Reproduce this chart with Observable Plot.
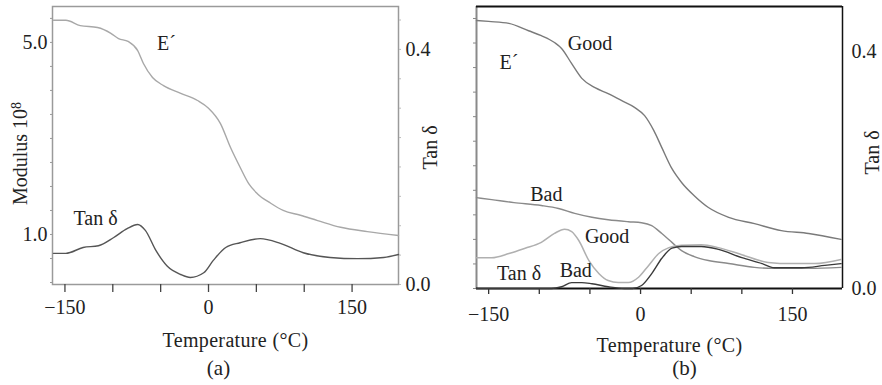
<!DOCTYPE html>
<html>
<head>
<meta charset="utf-8">
<script src="https://cdn.jsdelivr.net/npm/d3@7"></script>
<script src="https://cdn.jsdelivr.net/npm/@observablehq/plot@0.6"></script>
<style>
  html, body { margin: 0; padding: 0; background: #fff; }
  #wrap { display: flex; flex-direction: row; width: 882px; height: 385px; }
  #wrap svg { display: block; }
</style>
</head>
<body>
<div id="wrap"></div>
<script>
// ---------- Panel (a) data ----------
const tempA_E = [-162, -149, -134, -116, -102, -94, -84, -74, -68, -58.5, -47, -29, -11.5, 0, 12.5, 23, 33, 42, 51, 65, 78, 96, 114, 138, 166, 198.5];
const modA_E  = [5.46, 5.46, 5.35, 5.31, 5.19, 5.08, 5.02, 4.83, 4.56, 4.27, 4.10, 3.94, 3.79, 3.63, 3.31, 2.81, 2.40, 2.06, 1.85, 1.65, 1.50, 1.40, 1.29, 1.15, 1.06, 0.98];
const tempA_tan = [-162, -149, -131, -115, -99, -85, -74, -66, -55, -43, -29, -19, -5, 5, 18, 33, 54, 75, 99, 127, 156, 183, 198.5];
const tanA      = [0.053, 0.053, 0.063, 0.066, 0.080, 0.095, 0.102, 0.092, 0.058, 0.031, 0.017, 0.012, 0.020, 0.041, 0.063, 0.071, 0.078, 0.070, 0.054, 0.046, 0.044, 0.046, 0.051];

// ---------- Panel (b) data ----------
const tempB_Egood = [-162, -150, -130, -110.6, -98, -85, -78, -68, -58, -45, -32, -19, -6, 4, 13, 21, 31, 40.5, 53, 67, 87, 112.5, 139, 166, 198];
const modB_Egood  = [5.46, 5.44, 5.40, 5.25, 5.15, 5.01, 4.89, 4.58, 4.28, 4.09, 3.97, 3.83, 3.69, 3.52, 3.22, 2.87, 2.44, 2.16, 1.89, 1.65, 1.45, 1.32, 1.18, 1.12, 1.00];
const tempB_Ebad  = [-162, -147, -125, -98, -81, -65, -48, -32, -12, 1, 11, 21, 31, 40.5, 53, 67, 87, 112.5, 132, 166, 198];
const modB_Ebad   = [1.85, 1.81, 1.75, 1.69, 1.63, 1.53, 1.45, 1.40, 1.36, 1.34, 1.28, 1.12, 0.94, 0.77, 0.65, 0.57, 0.51, 0.43, 0.41, 0.41, 0.43];
const tempB_tanGood = [-162, -147, -130, -114, -98, -85, -75, -68, -61, -51, -41, -32, -22, -12, -2, 8, 18, 28, 40.5, 60, 77, 100, 126, 149, 172, 198];
const tanB_good     = [0.052, 0.052, 0.059, 0.068, 0.078, 0.093, 0.100, 0.096, 0.081, 0.047, 0.025, 0.0135, 0.010, 0.010, 0.019, 0.039, 0.059, 0.069, 0.073, 0.074, 0.069, 0.057, 0.044, 0.042, 0.042, 0.049];
const tempB_tanBad  = [-162, -88, -78, -68, -58, -48, -32, -16, -8, 1, 11, 21, 31, 40.5, 60, 77, 100, 120, 132, 159, 182, 198];
const tanB_bad      = [0.0, 0.0, 0.003, 0.010, 0.010, 0.008, 0.003, 0.0, 0.0, 0.005, 0.025, 0.051, 0.068, 0.071, 0.071, 0.066, 0.052, 0.042, 0.035, 0.035, 0.039, 0.042];

// ---------- axis tick labels ----------
const xTicks = [-150, -100, -50, 0, 50, 100, 150];
const xLabels = {"-150": "\u2212150", "0": "0", "150": "150"};
const modTicks = [0, 0.5, 1, 1.5, 2, 2.5, 3, 3.5, 4, 4.5, 5, 5.5];
const modLabelsA = {"1": "1.0", "5": "5.0"};
const tanTicks = [0, 0.05, 0.1, 0.15, 0.2, 0.25, 0.3, 0.35, 0.4, 0.45];
const tanLabels = {"0": "0.0", "0.4": "0.4"};

// annotations
const labelsA = [
  {t: -44, v: 0.410, s: "E\u00B4"},
  {t: -118, v: 0.112, s: "Tan \u03B4"}
];
const labelsB = [
  {t: -50, v: 0.4135, s: "Good"},
  {t: -130, v: 0.381, s: "E\u00B4"},
  {t: -93, v: 0.159, s: "Bad"},
  {t: -33, v: 0.088, s: "Good"},
  {t: -120, v: 0.025, s: "Tan \u03B4"},
  {t: -64, v: 0.030, s: "Bad"}
];

const FONT = "Liberation Serif";
const FS = 20;
const INK = "#222";
const zip = (xs, ys, f) => xs.map((x, i) => ({t: x, v: f ? f(ys[i]) : ys[i]}));

// modulus -> tan-unit alignment (left axis vs right axis)
const modToYA = m => 0.0851 + (m - 1) * (0.4119 - 0.0851) / 4;
const modToYB = m => m * 0.08287;

// ---------- Panel (a) ----------
const yDomA = [0, 0.473];
const xDomA = [-163, 198.5];
const modPosA = new Map(modTicks.map(m => [modToYA(m), m]));
const plotA = Plot.plot({
  width: 441, height: 385,
  marginLeft: 52, marginRight: 43, marginTop: 6, marginBottom: 101,
  x: {domain: xDomA, axis: null},
  y: {domain: yDomA, axis: null},
  style: {fontFamily: FONT, fontSize: FS + "px", background: "#fff", color: INK},
  marks: [
    Plot.frame({stroke: "#9a9a9a", strokeWidth: 1.5}),
    Plot.axisX(xTicks, {anchor: "bottom", label: null, tickSize: 8, tickPadding: 7, stroke: "#444", strokeWidth: 1.3,
      tickFormat: d => xLabels[String(d)] ?? "", fontSize: FS, fill: INK}),
    Plot.axisY(modTicks.map(modToYA), {anchor: "left", label: null, tickSize: 2, tickPadding: 3, stroke: "#999",
      tickFormat: d => modLabelsA[String(modPosA.get(d))] ?? "", fontSize: FS, fill: INK}),
    Plot.axisY(tanTicks, {anchor: "right", label: null, tickSize: 2, tickPadding: 5, stroke: "#bbb",
      tickFormat: d => tanLabels[String(d)] ?? "", fontSize: FS, fill: INK}),
    Plot.line(zip(tempA_E, modA_E, modToYA), {x: "t", y: "v", stroke: "#a8a8a8", strokeWidth: 1.4, curve: "monotone-x"}),
    Plot.line(zip(tempA_tan, tanA), {x: "t", y: "v", stroke: "#555", strokeWidth: 1.4, curve: "monotone-x"}),
    Plot.text(labelsA, {x: "t", y: "v", text: "s", fontSize: FS, fill: INK}),
    Plot.text(["Modulus 10\u2078"], {frameAnchor: "left", textAnchor: "middle", lineAnchor: "middle", rotate: -90, dx: -32, dy: 8, fontSize: FS, fill: INK}),
    Plot.text(["Tan \u03B4"], {frameAnchor: "right", textAnchor: "middle", lineAnchor: "middle", rotate: -90, dx: 32, dy: 2, fontSize: FS, fill: INK}),
    Plot.text(["Temperature (\u00B0C)"], {frameAnchor: "bottom", textAnchor: "middle", lineAnchor: "middle", dx: 10, dy: 56, fontSize: FS, fill: INK}),
    Plot.text(["(a)"], {frameAnchor: "bottom", textAnchor: "middle", lineAnchor: "middle", dx: -7, dy: 84, fontSize: FS + 1, fill: INK})
  ]
});

// ---------- Panel (b) ----------
const yDomB = [0, 0.476];
const xDomB = [-162, 199.4];
const plotB = Plot.plot({
  width: 441, height: 385,
  marginLeft: 35, marginRight: 40, marginTop: 6, marginBottom: 97,
  x: {domain: xDomB, axis: null},
  y: {domain: yDomB, axis: null},
  style: {fontFamily: FONT, fontSize: FS + "px", background: "#fff", color: INK},
  marks: [
    Plot.ruleX([xDomB[0]], {stroke: "#8a8a8a", strokeWidth: 2}),
    Plot.ruleY([yDomB[1]], {stroke: "#111", strokeWidth: 2}),
    Plot.ruleY([yDomB[0]], {stroke: "#111", strokeWidth: 2}),
    Plot.ruleX([xDomB[1]], {stroke: "#111", strokeWidth: 1.5}),
    Plot.axisX(xTicks, {anchor: "bottom", label: null, tickSize: 6, tickPadding: 12, stroke: "#333", strokeWidth: 1.3,
      tickFormat: d => xLabels[String(d)] ?? "", fontSize: FS, fill: INK}),
    Plot.axisY(modTicks.map(modToYB), {anchor: "left", label: null, tickSize: 3, stroke: "#888", tickFormat: () => ""}),
    Plot.axisY([0, 0.4], {anchor: "right", label: null, tickSize: 0, tickPadding: 9,
      tickFormat: d => tanLabels[String(d)] ?? "", fontSize: FS, fill: INK}),
    Plot.line(zip(tempB_Egood, modB_Egood, modToYB), {x: "t", y: "v", stroke: "#7a7a7a", strokeWidth: 1.4, curve: "monotone-x"}),
    Plot.line(zip(tempB_Ebad, modB_Ebad, modToYB), {x: "t", y: "v", stroke: "#8a8a8a", strokeWidth: 1.4, curve: "monotone-x"}),
    Plot.line(zip(tempB_tanGood, tanB_good), {x: "t", y: "v", stroke: "#b0b0b0", strokeWidth: 1.5, curve: "monotone-x"}),
    Plot.line(zip(tempB_tanBad, tanB_bad), {x: "t", y: "v", stroke: "#3a3a3a", strokeWidth: 1.4, curve: "monotone-x"}),
    Plot.text(labelsB, {x: "t", y: "v", text: "s", fontSize: FS, fill: INK}),
    Plot.text(["Tan \u03B4"], {frameAnchor: "right", textAnchor: "middle", lineAnchor: "middle", rotate: -90, dx: 30, dy: 5, fontSize: FS, fill: INK}),
    Plot.text(["Temperature (\u00B0C)"], {frameAnchor: "bottom", textAnchor: "middle", lineAnchor: "middle", dx: 10, dy: 57, fontSize: FS, fill: INK}),
    Plot.text(["(b)"], {frameAnchor: "bottom", textAnchor: "middle", lineAnchor: "middle", dx: 25, dy: 80, fontSize: FS + 1, fill: INK})
  ]
});

// typographic touches: slight tracking on the temperature titles, a proper superscript on 10^8
for (const svg of [plotA, plotB]) {
  d3.select(svg).selectAll("text").filter(function() { return this.textContent.startsWith("Temperature"); })
    .style("letter-spacing", "0.35px");
}
d3.select(plotA).selectAll("text").filter(function() { return this.textContent === "Modulus 10\u2078"; })
  .each(function() {
    const t = d3.select(this);
    t.text("Modulus 10");
    t.append("tspan").attr("dy", "-0.45em").attr("font-size", "14px").text("8");
  });

const wrap = document.getElementById("wrap");
wrap.appendChild(plotA);
wrap.appendChild(plotB);
</script>
</body>
</html>
